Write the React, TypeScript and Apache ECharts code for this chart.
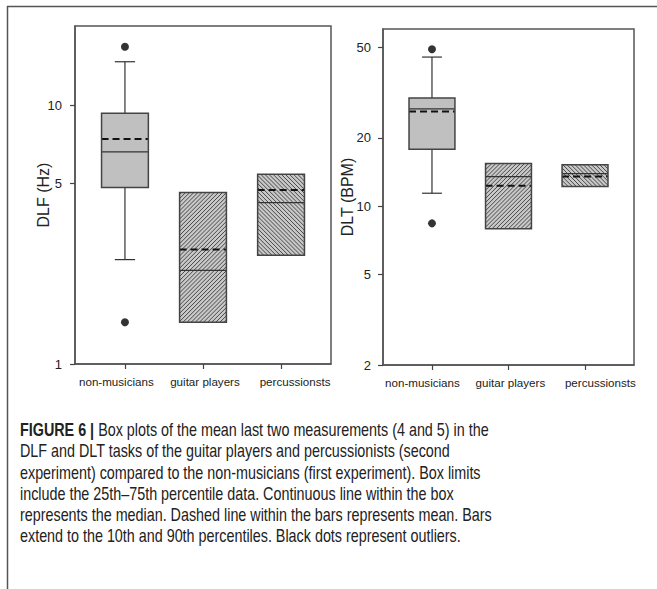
import React, { useEffect, useRef } from 'react';
import * as echarts from 'echarts';

const categories = ['non-musicians', 'guitar players', 'percussionsts'];
const fillKinds = ['solid', 'forward', 'backward'];

// DLF (Hz)
const dlfQ1 = [4.8, 1.45, 2.63];
const dlfQ3 = [9.3, 4.6, 5.4];
const dlfMedian = [6.6, 2.3, 4.2];
const dlfMean = [7.4, 2.77, 4.7];
const dlfP10: (number | null)[] = [2.53, null, null];
const dlfP90: (number | null)[] = [14.7, null, null];
const dlfOutliers = [[0, 16.8], [0, 1.45]];
const dlfTicks = [1, 5, 10];
const dlfRange = [1, 20.2];

// DLT (BPM)
const dltQ1 = [17.8, 7.95, 12.2];
const dltQ3 = [29.9, 15.4, 15.2];
const dltMedian = [26.8, 13.5, 13.9];
const dltMean = [26.1, 12.3, 13.5];
const dltP10: (number | null)[] = [11.4, null, null];
const dltP90: (number | null)[] = [45.3, null, null];
const dltOutliers = [[0, 49], [0, 8.4]];
const dltTicks = [2, 5, 10, 20, 50];
const dltRange = [2, 60.2];

// category label anchor positions (labels in the original are not centred on the ticks)
const labelPosLeft = [-0.11, 1.025, 2.18];
const labelPosRight = [-0.125, 1.025, 2.2];

const captionLines = [
  '{b|FIGURE 6 |} Box plots of the mean last two measurements (4 and 5) in the',
  'DLF and DLT tasks of the guitar players and percussionists (second',
  'experiment) compared to the non-musicians (first experiment). Box limits',
  'include the 25th\u201375th percentile data. Continuous line within the box',
  'represents the median. Dashed line within the bars represents mean. Bars',
  'extend to the 10th and 90th percentiles. Black dots represent outliers.',
];

const lg = (v: number) => Math.log10(v);
const FONT = "'Liberation Sans', Arial, sans-serif";

function hatchLines(L: number, T: number, R: number, B: number, kind: string, step: number) {
  const out: any[] = [];
  const st = { stroke: '#3a3a3a', lineWidth: 0.9 };
  if (kind === 'forward') {
    for (let c = L + T + step / 2; c < R + B; c += step) {
      const xa = Math.max(L, c - B);
      const xb = Math.min(R, c - T);
      if (xb <= xa) continue;
      out.push({ type: 'line', shape: { x1: xa, y1: c - xa, x2: xb, y2: c - xb }, style: st });
    }
  } else if (kind === 'backward') {
    for (let c = L - B + step / 2; c < R - T; c += step) {
      const xa = Math.max(L, c + T);
      const xb = Math.min(R, c + B);
      if (xb <= xa) continue;
      out.push({ type: 'line', shape: { x1: xa, y1: xa - c, x2: xb, y2: xb - c }, style: st });
    }
  }
  return out;
}

function makeRender(q1: number[], q3: number[], med: number[], mean: number[], p10: (number | null)[], p90: (number | null)[]) {
  return (params: any, api: any) => {
    const i = params.dataIndex;
    const x = api.value(0);
    const [L, T] = api.coord([x - 0.3, lg(q3[i])]);
    const [R, B] = api.coord([x + 0.3, lg(q1[i])]);
    const [cx] = api.coord([x, lg(q1[i])]);
    const [cl] = api.coord([x - 0.13, lg(q1[i])]);
    const [cr] = api.coord([x + 0.13, lg(q1[i])]);
    const kind = fillKinds[i];
    const children: any[] = [];
    const wst = { stroke: '#333', lineWidth: 1.2 };
    if (p90[i] != null) {
      const yTop = api.coord([x, lg(p90[i] as number)])[1];
      children.push({ type: 'line', shape: { x1: cx, y1: T, x2: cx, y2: yTop }, style: wst });
      children.push({ type: 'line', shape: { x1: cl, y1: yTop, x2: cr, y2: yTop }, style: wst });
    }
    if (p10[i] != null) {
      const yBot = api.coord([x, lg(p10[i] as number)])[1];
      children.push({ type: 'line', shape: { x1: cx, y1: B, x2: cx, y2: yBot }, style: wst });
      children.push({ type: 'line', shape: { x1: cl, y1: yBot, x2: cr, y2: yBot }, style: wst });
    }
    children.push({
      type: 'rect',
      shape: { x: L, y: T, width: R - L, height: B - T },
      style: { fill: kind === 'solid' ? '#c0c0c0' : '#c8c8c8', stroke: 'none' },
    });
    children.push(...hatchLines(L, T, R, B, kind, 4.1));
    const ym = api.coord([x, lg(med[i])])[1];
    children.push({ type: 'line', shape: { x1: L, y1: ym, x2: R, y2: ym }, style: { stroke: '#333', lineWidth: 1.2 } });
    const ya = api.coord([x, lg(mean[i])])[1];
    children.push({
      type: 'line',
      shape: { x1: L, y1: ya, x2: R, y2: ya },
      style: { stroke: '#111', lineWidth: 2, lineDash: [7, 4] },
    });
    children.push({
      type: 'rect',
      shape: { x: L, y: T, width: R - L, height: B - T },
      style: { fill: 'none', stroke: '#444', lineWidth: 1.5 },
    });
    return { type: 'group', children };
  };
}

function boxData(q1: number[], q3: number[]) {
  return categories.map((_, i) => [i, lg(q1[i]), lg(q3[i])]);
}

function yAxisCfg(gridIndex: number, range: number[], ticks: number[], name: string, nameGap: number, margin: number) {
  return {
    type: 'value',
    gridIndex,
    min: lg(range[0]),
    max: lg(range[1]),
    name,
    nameLocation: 'middle',
    nameGap,
    nameMoveOverlap: false,
    nameTextStyle: { fontSize: 16, color: '#222', fontFamily: FONT },
    splitLine: { show: false },
    axisLine: { show: true, onZero: false, lineStyle: { color: '#555', width: 1.5 } },
    axisTick: { show: true, length: 5, customValues: ticks.map(lg), lineStyle: { color: '#444', width: 1.2 } },
    axisLabel: {
      customValues: ticks.map(lg),
      formatter: (v: number) => String(Math.round(Math.pow(10, v))),
      fontSize: 13,
      color: '#222',
      margin,
      fontFamily: FONT,
    },
  };
}

function xAxisCfg(gridIndex: number, labelPos: number[]) {
  return {
    type: 'value',
    gridIndex,
    min: -0.64,
    max: 2.64,
    splitLine: { show: false },
    axisLine: { show: true, onZero: false, lineStyle: { color: '#555', width: 1.5 } },
    axisTick: { show: true, length: 5, customValues: [0, 1, 2], lineStyle: { color: '#444', width: 1.2 } },
    axisLabel: {
      customValues: labelPos,
      formatter: (v: number) => categories[Math.round(v)],
      fontSize: 11.6,
      color: '#222',
      margin: 11,
      fontFamily: FONT,
    },
  };
}

export default function App() {
  const ref = useRef<HTMLDivElement>(null);
  useEffect(() => {
    if (!ref.current) return;
    const chart = echarts.init(ref.current, null, { renderer: 'svg' });
    const captionTop = 429.3;
    const lineH = 21.3;
    const option: any = {
      animation: false,
      backgroundColor: '#fff',
      grid: [
        { left: 75, top: 26, width: 256, height: 338, show: true, borderColor: '#555', borderWidth: 1.5, backgroundColor: 'transparent' },
        { left: 383, top: 29, width: 251, height: 336, show: true, borderColor: '#555', borderWidth: 1.5, backgroundColor: 'transparent' },
      ],
      xAxis: [xAxisCfg(0, labelPosLeft), xAxisCfg(1, labelPosRight)],
      yAxis: [
        yAxisCfg(0, dlfRange, dlfTicks, 'DLF (Hz)', 23.5, 13),
        yAxisCfg(1, dltRange, dltTicks, 'DLT (BPM)', 27.5, 12),
      ],
      series: [
        {
          type: 'custom',
          xAxisIndex: 0,
          yAxisIndex: 0,
          data: boxData(dlfQ1, dlfQ3),
          renderItem: makeRender(dlfQ1, dlfQ3, dlfMedian, dlfMean, dlfP10, dlfP90),
          silent: true,
        },
        {
          type: 'scatter',
          xAxisIndex: 0,
          yAxisIndex: 0,
          data: dlfOutliers.map(([x, v]) => [x, lg(v)]),
          symbolSize: 8,
          itemStyle: { color: '#000' },
          silent: true,
        },
        {
          type: 'custom',
          xAxisIndex: 1,
          yAxisIndex: 1,
          data: boxData(dltQ1, dltQ3),
          renderItem: makeRender(dltQ1, dltQ3, dltMedian, dltMean, dltP10, dltP90),
          silent: true,
        },
        {
          type: 'scatter',
          xAxisIndex: 1,
          yAxisIndex: 1,
          data: dltOutliers.map(([x, v]) => [x, lg(v)]),
          symbolSize: 8,
          itemStyle: { color: '#000' },
          silent: true,
        },
      ],
      graphic: [
        { type: 'line', shape: { x1: 7, y1: 6.5, x2: 657, y2: 6.5 }, style: { stroke: '#555', lineWidth: 1.5 } },
        { type: 'line', shape: { x1: 7.5, y1: 6, x2: 7.5, y2: 589 }, style: { stroke: '#555', lineWidth: 1.5 } },
        ...captionLines.map((t, k) => ({
          type: 'text',
          x: 20,
          y: captionTop + k * lineH,
          scaleX: 0.797,
          style: {
            text: t,
            fontSize: 18,
            fontFamily: FONT,
            fill: '#222',
            verticalAlign: 'middle',
            align: 'left',
            rich: { b: { fontWeight: 'bold', fontSize: 18, fontFamily: FONT, fill: '#222' } },
          },
        })),
      ],
    };
    chart.setOption(option);
    return () => chart.dispose();
  }, []);
  return <div ref={ref} style={{ position: 'fixed', left: 0, top: 0, width: 657, height: 589 }} />;
}
